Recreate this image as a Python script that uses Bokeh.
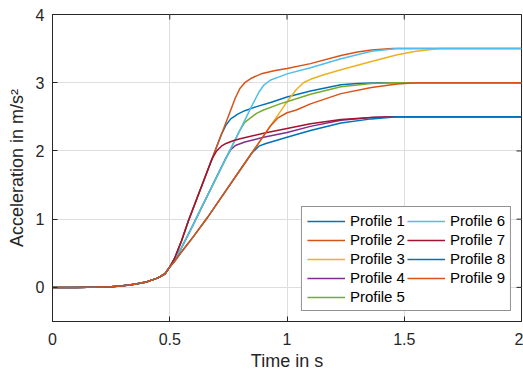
import math
from bokeh.plotting import figure
from bokeh.models import Range1d, FixedTicker, Legend, LegendItem
from bokeh.embed import file_html
from bokeh.resources import INLINE

# shared start-up part (all profiles identical)
t_rise = [0.0, 0.1, 0.2, 0.25, 0.3, 0.35, 0.4, 0.45, 0.48]
a_rise = [0.0, 0.0, 0.005, 0.01, 0.025, 0.045, 0.08, 0.14, 0.2]

# per-profile continuation (time in s, acceleration in m/s^2)
t_p1 = [0.5, 0.52, 0.55, 0.58, 0.6, 0.65, 0.7, 0.72, 0.74, 0.76, 0.79, 0.82, 0.87, 0.93, 1.0, 1.1, 1.23, 1.3, 1.4, 2.0]
a_p1 = [0.3, 0.42, 0.68, 0.98, 1.16, 1.61, 2.06, 2.24, 2.38, 2.47, 2.54, 2.59, 2.65, 2.71, 2.79, 2.88, 2.97, 2.99, 3.0, 3.0]

t_p2 = [0.5, 0.52, 0.55, 0.58, 0.6, 0.65, 0.7, 0.75, 0.78, 0.8, 0.82, 0.85, 0.89, 0.95, 1.0, 1.1, 1.23, 1.3, 1.36, 1.45, 2.0]
a_p2 = [0.3, 0.42, 0.68, 0.98, 1.16, 1.61, 2.06, 2.51, 2.78, 2.92, 3.0, 3.07, 3.13, 3.18, 3.21, 3.28, 3.4, 3.45, 3.48, 3.5, 3.5]

t_p3 = [0.5, 0.52, 0.55, 0.6, 0.66, 0.7, 0.8, 0.9, 1.0, 1.04, 1.07, 1.1, 1.15, 1.23, 1.36, 1.47, 1.55, 1.65, 2.0]
a_p3 = [0.3, 0.38, 0.52, 0.74, 1.02, 1.22, 1.72, 2.22, 2.72, 2.9, 3.0, 3.05, 3.11, 3.19, 3.31, 3.41, 3.46, 3.5, 3.5]

t_p4 = [0.5, 0.52, 0.55, 0.6, 0.7, 0.74, 0.76, 0.78, 0.82, 0.9, 1.0, 1.1, 1.23, 1.36, 1.45, 2.0]
a_p4 = [0.3, 0.4, 0.58, 0.92, 1.62, 1.9, 2.02, 2.08, 2.13, 2.2, 2.27, 2.36, 2.45, 2.49, 2.5, 2.5]

t_p5 = [0.5, 0.52, 0.55, 0.6, 0.7, 0.8, 0.82, 0.85, 0.87, 0.9, 0.97, 1.0, 1.1, 1.23, 1.36, 1.45, 2.0]
a_p5 = [0.3, 0.4, 0.58, 0.92, 1.62, 2.31, 2.42, 2.5, 2.55, 2.6, 2.69, 2.72, 2.83, 2.94, 2.99, 3.0, 3.0]

t_p6 = [0.5, 0.52, 0.55, 0.6, 0.7, 0.8, 0.85, 0.88, 0.9, 0.93, 0.97, 1.0, 1.1, 1.23, 1.36, 1.47, 2.0]
a_p6 = [0.3, 0.4, 0.58, 0.92, 1.62, 2.31, 2.66, 2.86, 2.96, 3.04, 3.09, 3.13, 3.22, 3.35, 3.46, 3.5, 3.5]

t_p7 = [0.5, 0.52, 0.55, 0.58, 0.6, 0.65, 0.68, 0.7, 0.72, 0.74, 0.77, 0.8, 0.9, 1.0, 1.1, 1.23, 1.36, 1.45, 2.0]
a_p7 = [0.3, 0.42, 0.68, 0.98, 1.16, 1.61, 1.88, 2.0, 2.07, 2.11, 2.15, 2.18, 2.26, 2.33, 2.4, 2.46, 2.49, 2.5, 2.5]

t_p8 = [0.5, 0.52, 0.55, 0.6, 0.66, 0.7, 0.8, 0.85, 0.88, 0.91, 0.95, 1.0, 1.1, 1.23, 1.36, 1.47, 2.0]
a_p8 = [0.3, 0.38, 0.52, 0.74, 1.02, 1.22, 1.72, 1.97, 2.07, 2.11, 2.15, 2.2, 2.3, 2.41, 2.47, 2.5, 2.5]

t_p9 = [0.5, 0.52, 0.55, 0.6, 0.66, 0.7, 0.8, 0.9, 0.93, 0.96, 1.0, 1.04, 1.1, 1.23, 1.36, 1.47, 1.55, 2.0]
a_p9 = [0.3, 0.38, 0.52, 0.74, 1.02, 1.22, 1.72, 2.22, 2.37, 2.48, 2.56, 2.6, 2.69, 2.84, 2.93, 2.98, 3.0, 3.0]

labels = ["Profile 1", "Profile 2", "Profile 3", "Profile 4", "Profile 5",
          "Profile 6", "Profile 7", "Profile 8", "Profile 9"]
colors = ["#0072BD", "#D95319", "#EDB120", "#7E2F8E", "#77AC30",
          "#4DBEEE", "#A2142F", "#0072BD", "#D95319"]

x_ticks = [0, 0.5, 1, 1.5, 2]
y_ticks = [0, 1, 2, 3, 4]
x_min, x_max = 0, 2
y_min, y_max = -0.5, 4

series = [(t_p1, a_p1), (t_p2, a_p2), (t_p3, a_p3), (t_p4, a_p4), (t_p5, a_p5),
          (t_p6, a_p6), (t_p7, a_p7), (t_p8, a_p8), (t_p9, a_p9)]

FONT = "Liberation Sans"
AX = "#262626"

p = figure(width=523, height=373, output_backend="svg", toolbar_location=None,
           x_range=Range1d(x_min, x_max), y_range=Range1d(y_min, y_max),
           min_border_left=52, min_border_right=2, min_border_top=14, min_border_bottom=52)
p.background_fill_color = "white"
p.border_fill_color = "white"
p.outline_line_color = AX
p.outline_line_width = 1

for ax in (p.xaxis, p.yaxis):
    ax.major_tick_in = 5
    ax.major_tick_out = 0
    ax.minor_tick_line_color = None
    ax.axis_line_color = AX
    ax.major_tick_line_color = AX
    ax.major_label_text_color = AX
    ax.major_label_text_font = FONT
    ax.major_label_text_font_size = "16px"
    ax.axis_label_text_font = FONT
    ax.axis_label_text_font_size = "18px"
    ax.axis_label_text_font_style = "normal"
    ax.axis_label_text_color = AX

p.xaxis.ticker = FixedTicker(ticks=x_ticks)
p.yaxis.ticker = FixedTicker(ticks=y_ticks)
p.xaxis.major_label_standoff = 11
p.yaxis.major_label_standoff = 8
p.xaxis.axis_label = "Time in s"
p.yaxis.axis_label = "Acceleration in m/s²"
p.xaxis.axis_label_standoff = 3
p.yaxis.axis_label_standoff = 6

p.xgrid.ticker = FixedTicker(ticks=x_ticks)
p.ygrid.ticker = FixedTicker(ticks=y_ticks)
p.grid.grid_line_color = "#dedede"
p.grid.grid_line_width = 1

# mirrored tick marks on the top and right frame edges (box on)
p.scatter(x=x_ticks, y=[y_max] * len(x_ticks), marker="dash", angle=math.pi / 2,
          size=10, line_color=AX, line_width=1)
p.scatter(x=[x_max] * len(y_ticks), y=y_ticks, marker="dash",
          size=10, line_color=AX, line_width=1)

items = []
for (tt, aa), lab, col in zip(series, labels, colors):
    r = p.line(t_rise + tt, a_rise + aa, line_color=col, line_width=1.5)
    items.append(LegendItem(label=lab, renderers=[r]))

legend = Legend(items=items, location="bottom_right", nrows=5,
                label_text_font=FONT, label_text_font_size="15px", label_text_color="black",
                glyph_width=38, glyph_height=16, label_height=16, label_standoff=5,
                spacing=2, padding=5, margin=10,
                border_line_color=AX, border_line_width=1.2,
                background_fill_color="white", background_fill_alpha=1)
p.add_layout(legend)

open("out.html", "w").write(file_html(p, INLINE))
